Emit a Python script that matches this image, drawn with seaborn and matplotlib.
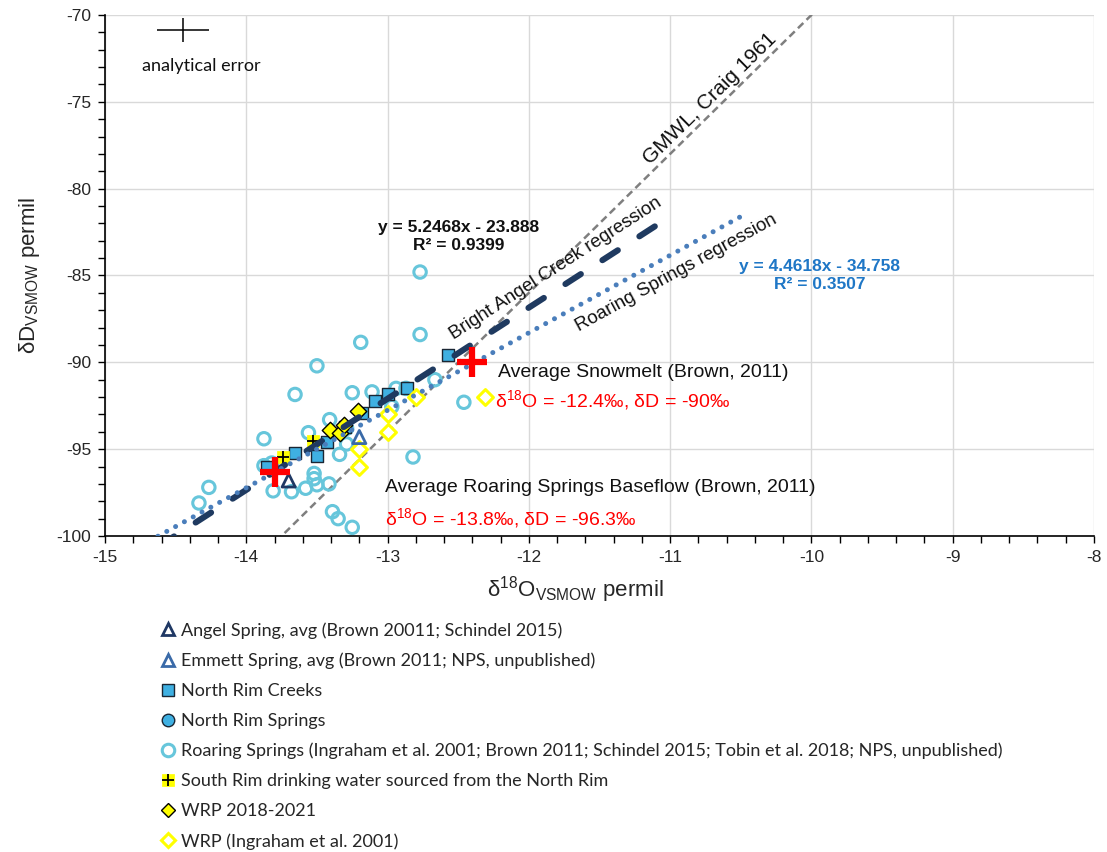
import numpy as np
import matplotlib
matplotlib.use("Agg")
import matplotlib.pyplot as plt
import seaborn as sns
from matplotlib.lines import Line2D
from matplotlib.legend_handler import HandlerTuple
from matplotlib.ticker import MultipleLocator

# ---- data: d18O (x) and dD (y), permil VSMOW ----
roaring_d18o = [-12.77, -12.77, -13.19, -13.50, -13.655, -13.25, -13.11, -12.94, -12.87,
                -12.665, -12.46, -12.97, -13.41, -13.29, -13.56, -13.29, -13.875, -13.34,
                -12.82, -13.875, -13.82, -13.52, -13.52, -13.50, -13.415, -13.58, -13.68,
                -13.81, -14.265, -14.335, -13.39, -13.35, -13.25]
roaring_dD = [-84.8, -88.4, -88.85, -90.2, -91.85, -91.75, -91.7, -91.5, -91.5,
              -91.0, -92.3, -92.55, -93.3, -93.8, -94.05, -94.7, -94.4, -95.3,
              -95.45, -95.95, -95.8, -96.4, -96.7, -97.05, -97.0, -97.25, -97.45,
              -97.4, -97.2, -98.1, -98.6, -99.0, -99.5]

creeks_d18o = [-12.575, -13.09, -13.00, -12.86, -13.18, -13.30, -13.43, -13.50, -13.655, -13.85]
creeks_dD = [-89.6, -92.2, -91.85, -91.5, -92.9, -93.75, -94.6, -95.4, -95.2, -96.0]

nr_springs_d18o = []
nr_springs_dD = []

angel_d18o = [-13.70]
angel_dD = [-96.8]

emmett_d18o = [-13.20]
emmett_dD = [-94.3]

south_rim_d18o = [-13.74, -13.53]
south_rim_dD = [-95.45, -94.55]

wrp_recent_d18o = [-13.21, -13.41, -13.34, -13.31]
wrp_recent_dD = [-92.8, -93.9, -94.05, -93.6]

wrp_ingraham_d18o = [-13.00, -13.00, -12.31, -12.80, -13.20, -13.20]
wrp_ingraham_dD = [-93.0, -94.0, -92.0, -92.0, -95.0, -96.0]

# literature averages (Brown, 2011)
avg_labels = ["snowmelt", "baseflow"]
avg_d18o = [-12.4, -13.8]
avg_dD = [-90.0, -96.3]

# regression / reference lines: slope, intercept, x-extent
bac_slope, bac_intercept, bac_x = 5.2468, -23.888, [-14.62, -11.10]
rs_slope, rs_intercept, rs_x = 4.4618, -34.758, [-14.75, -10.49]
gmwl_slope, gmwl_intercept, gmwl_x = 8.0, 10.0, [-13.85, -9.9]

# ---- style ----
sns.set_theme(style="white")
plt.rcParams["font.family"] = ["Liberation Sans", "DejaVu Sans"]
plt.rcParams["mathtext.fontset"] = "custom"
plt.rcParams["mathtext.rm"] = "Liberation Sans"
plt.rcParams["mathtext.it"] = "Liberation Sans:italic"
plt.rcParams["mathtext.bf"] = "Liberation Sans:bold"
plt.rcParams["mathtext.default"] = "regular"
plt.rcParams["axes.unicode_minus"] = False

NAVY = "#1F3A60"
DOTBLUE = "#4A7EBB"
CYAN = "#67C6DB"
CREEK = "#3FB0E2"
YELLOW = "#FFFF00"
RED = "#FF0000"

fig = plt.figure(figsize=(11.07, 8.52), dpi=100)
ax = fig.add_axes([105 / 1107, 1 - 536 / 852, 989 / 1107, 521 / 852])
ax.set_xlim(-15, -8)
ax.set_ylim(-100, -70)

ax.xaxis.set_major_locator(MultipleLocator(1))
ax.xaxis.set_minor_locator(MultipleLocator(0.2))
ax.yaxis.set_major_locator(MultipleLocator(5))
ax.yaxis.set_minor_locator(MultipleLocator(1))
ax.tick_params(which="both", direction="out", length=5, width=1, color="black",
               bottom=True, left=True, top=False, right=False)
ax.tick_params(which="major", labelsize=12.5, pad=5)
ax.grid(which="major", color="#D9D9D9", lw=1)
ax.set_axisbelow(True)
for s in ["top", "right"]:
    ax.spines[s].set_visible(False)
for s in ["left", "bottom"]:
    ax.spines[s].set_color("black")
    ax.spines[s].set_linewidth(1.2)

# ---- scatter series ----
sns.scatterplot(x=roaring_d18o, y=roaring_dD, ax=ax, marker="o", s=80, color=CYAN,
                facecolor="none", edgecolor=CYAN, linewidth=2.2, zorder=3)
sns.scatterplot(x=creeks_d18o, y=creeks_dD, ax=ax, marker="s", s=85, color=CREEK,
                edgecolor="#1A2633", linewidth=1.0, zorder=3)
if nr_springs_d18o:
    sns.scatterplot(x=nr_springs_d18o, y=nr_springs_dD, ax=ax, marker="o", s=80,
                    color=CREEK, edgecolor="#1A2633", linewidth=1.0, zorder=3)
sns.scatterplot(x=south_rim_d18o, y=south_rim_dD, ax=ax, marker="s", s=85, color=YELLOW,
                edgecolor=YELLOW, linewidth=0.5, zorder=3)
sns.scatterplot(x=south_rim_d18o, y=south_rim_dD, ax=ax, marker="+", s=70, color="black",
                linewidth=1.3, zorder=3.1)
sns.scatterplot(x=wrp_recent_d18o, y=wrp_recent_dD, ax=ax, marker="D", s=70, color=YELLOW,
                edgecolor="black", linewidth=1.0, zorder=3.2)
sns.scatterplot(x=wrp_ingraham_d18o, y=wrp_ingraham_dD, ax=ax, marker="D", s=65, color=YELLOW,
                facecolor="white", edgecolor=YELLOW, linewidth=2.2, zorder=3)
sns.scatterplot(x=angel_d18o, y=angel_dD, ax=ax, marker="^", s=90, color="#1F3864",
                facecolor="none", edgecolor="#1F3864", linewidth=2.0, zorder=3)
sns.scatterplot(x=emmett_d18o, y=emmett_dD, ax=ax, marker="^", s=90, color="#3A6AA8",
                facecolor="none", edgecolor="#3A6AA8", linewidth=2.0, zorder=3)

# ---- lines ----
xs = np.array(gmwl_x)
ax.plot(xs, gmwl_slope * xs + gmwl_intercept, color="#7F7F7F", lw=1.8,
        dashes=(3, 1.8), zorder=2.5)
xs = np.array(bac_x)
ax.plot(xs, bac_slope * xs + bac_intercept, color=NAVY, lw=4.4,
        dashes=(3.0, 4.2), dash_capstyle="round", zorder=4)
xs = np.array(rs_x)
ax.plot(xs, rs_slope * xs + rs_intercept, color=DOTBLUE, lw=3.6,
        dashes=(0.01, 2.0), dash_capstyle="round", zorder=4)

# averages
sns.scatterplot(x=avg_d18o, y=avg_dD, ax=ax, marker="+", s=480, color=RED,
                linewidth=4.5, zorder=5)

# ---- labels ----
ax.set_xlabel(r"δ$^{18}$O$_{VSMOW}$ permil", fontsize=16, labelpad=4)
ax.set_ylabel(r"δD$_{VSMOW}$ permil", fontsize=16, labelpad=10)
ax.xaxis.set_label_coords(0.475, -0.074)


def screen_angle(slope):
    p0 = ax.transData.transform((-12.0, slope * -12.0))
    p1 = ax.transData.transform((-11.0, slope * -11.0))
    return np.degrees(np.arctan2(p1[1] - p0[1], p1[0] - p0[0]))


def line_label(text, slope, intercept, x0, perp_pts, size):
    ang = screen_angle(slope)
    rad = np.radians(ang)
    off = (-np.sin(rad) * perp_pts, np.cos(rad) * perp_pts)
    ax.annotate(text, xy=(x0, slope * x0 + intercept), xytext=off,
                textcoords="offset points", rotation=ang, rotation_mode="anchor",
                ha="center", va="center", fontsize=size, color="#111111", zorder=6)


line_label("GMWL, Craig 1961", gmwl_slope, gmwl_intercept, -10.66, 8, 15)
line_label("Bright Angel Creek regression", bac_slope, bac_intercept, -11.74, 13, 13.5)
line_label("Roaring Springs regression", rs_slope, rs_intercept, -11.02, -13.5, 13.5)

ax.text(-12.50, -82.75, "y = 5.2468x - 23.888\nR² = 0.9399", ha="center", va="center",
        fontsize=12.5, fontweight="bold", color="#111111", linespacing=1.25, zorder=6)
ax.text(-9.94, -85.0, "y = 4.4618x - 34.758\nR² = 0.3507", ha="center", va="center",
        fontsize=12.5, fontweight="bold", color="#1F77C6", linespacing=1.25, zorder=6)

ax.text(-12.22, -90.6, "Average Snowmelt (Brown, 2011)", ha="left", va="center",
        fontsize=14, color="#111111", zorder=6)
ax.text(-12.24, -92.2, r"δ$^{18}$O = -12.4‰, δD = -90‰", ha="left", va="center",
        fontsize=14, color=RED, zorder=6)
ax.text(-13.02, -97.2, "Average Roaring Springs Baseflow (Brown, 2011)", ha="left",
        va="center", fontsize=14, color="#111111", zorder=6)
ax.text(-13.02, -98.95, r"δ$^{18}$O = -13.8‰, δD = -96.3‰", ha="left", va="center",
        fontsize=14, color=RED, zorder=6)

# analytical error bars
ax.errorbar([-14.45], [-70.85], xerr=[0.185], yerr=[0.69], fmt="none",
            ecolor="black", elinewidth=1.1, capsize=0, zorder=6)
ax.text(-14.32, -72.95, "analytical error", ha="center", va="center", fontsize=13,
        family=["Lato", "DejaVu Sans"], color="#111111")

# ---- legend ----
def mk(marker, fc, ec, mew, ms=9):
    return Line2D([], [], linestyle="none", marker=marker, markersize=ms,
                  markerfacecolor=fc, markeredgecolor=ec, markeredgewidth=mew)

handles = [
    mk("^", "white", "#1F3864", 2.0),
    mk("^", "white", "#3A6AA8", 2.0),
    mk("s", CREEK, "#1A2633", 1.0),
    mk("o", CREEK, "#1A2633", 1.0),
    mk("o", "white", CYAN, 2.2),
    (mk("s", YELLOW, YELLOW, 0.5), mk("+", "black", "black", 1.3, ms=8)),
    mk("D", YELLOW, "black", 1.0, ms=7.5),
    mk("D", "white", YELLOW, 2.2, ms=7.5),
]
labels = [
    "Angel Spring, avg (Brown 20011; Schindel 2015)",
    "Emmett Spring, avg (Brown 2011; NPS, unpublished)",
    "North Rim Creeks",
    "North Rim Springs",
    "Roaring Springs (Ingraham et al. 2001; Brown 2011; Schindel 2015; Tobin et al. 2018; NPS, unpublished)",
    "South Rim drinking water sourced from the North Rim",
    "WRP 2018-2021",
    "WRP (Ingraham et al. 2001)",
]
fig.legend(handles, labels, loc="upper left", bbox_to_anchor=(150 / 1107, 1 - 613 / 852),
           frameon=False, prop={"family": ["Lato", "DejaVu Sans"], "size": 13},
           handlelength=1.0, handletextpad=0.2, labelspacing=0.77, borderpad=0,
           handler_map={tuple: HandlerTuple(ndivide=1, pad=0)})

fig.savefig("out.png", dpi=100)
